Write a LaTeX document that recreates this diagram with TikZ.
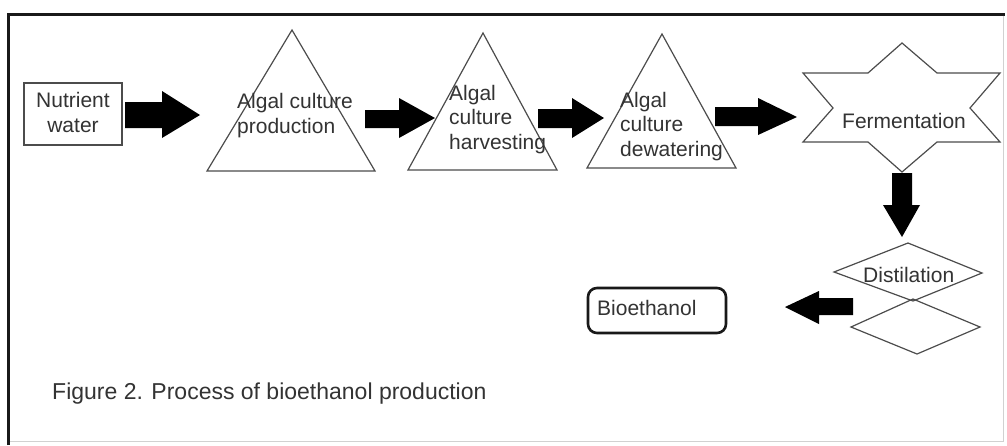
\documentclass[tikz,border=0pt]{standalone}
\usepackage{fontspec}
\setmainfont{Liberation Sans}
\begin{document}
\begin{tikzpicture}[x=1pt,y=-1pt,
  txt/.style={anchor=base west, inner sep=0pt, align=left, text=black!80,
              font=\fontsize{21}{24.5}\selectfont},
  shp/.style={draw=black!70, line width=1.2pt, fill=white, line join=miter},
  barrow/.style={fill=black, draw=none}]
\useasboundingbox (0,0) rectangle (1007,445);
\fill[white] (0,0) rectangle (1007,445);
% frame
\draw[line width=3pt, black!90] (8,445) -- (8,14) -- (1005,14);
\draw[black!18, line width=1pt] (1003,15.5) -- (1003,441) -- (9.5,441);
% Nutrient water box
\draw[shp] (24,83) rectangle (122,145);
% triangles
\draw[shp] (292,30) -- (375,171) -- (207,171) -- cycle;
\draw[shp] (483,33) -- (557,170) -- (408,170) -- cycle;
\draw[shp] (662,34) -- (736,168) -- (587,168) -- cycle;
% star
\draw[shp] (902,43) -- (937,73) -- (1000,73) -- (970,108) -- (1000,142) -- (937,142)
  -- (902,172) -- (868,142) -- (803,142) -- (833,108) -- (803,73) -- (868,73) -- cycle;
% diamonds
\draw[shp] (908,243) -- (982,273) -- (913,301) -- (834,272) -- cycle;
\draw[shp, fill=none] (913,299) -- (980,327) -- (917,354) -- (851,327) -- cycle;
% Bioethanol box
\draw[line width=2.6pt, black!90, rounded corners=9pt] (588,288) rectangle (726,333);
% block arrows
\fill[barrow] (125,102) -- (162,102) -- (162,91) -- (200,115) -- (162,138) -- (162,128) -- (125,128) -- cycle;
\fill[barrow] (365,110) -- (399,110) -- (399,98) -- (435,118) -- (399,138) -- (399,128) -- (365,128) -- cycle;
\fill[barrow] (538,109) -- (572,109) -- (572,98) -- (604,118) -- (572,138) -- (572,128) -- (538,128) -- cycle;
\fill[barrow] (715,107) -- (758,107) -- (758,98) -- (797,117) -- (758,135) -- (758,126) -- (715,126) -- cycle;
\fill[barrow] (892,173) -- (912,173) -- (912,205) -- (920,205) -- (902,237) -- (883,205) -- (892,205) -- cycle;
\fill[barrow] (853,298) -- (819,298) -- (819,291) -- (785,307) -- (819,324) -- (819,315) -- (853,315) -- cycle;
% texts (base anchor of a multi-line node = baseline of its last line)
\node[txt, align=center, anchor=base] (nutrient) at (73,132) {Nutrient\\water};
\node[txt] (production) at (237,133) {Algal culture\\production};
\node[txt] (harvesting) at (449,149) {Algal\\culture\\harvesting};
\node[txt] (dewatering) at (620,156) {Algal\\culture\\dewatering};
\node[txt] (fermentation) at (842,128) {Fermentation};
\node[txt] (distilation) at (863,282) {Distilation};
\node[txt] (bioethanol) at (597,315) {Bioethanol};
\node[txt, font=\fontsize{23}{27}\selectfont] (caption) at (52,399) {Figure 2. Process of bioethanol production};
\end{tikzpicture}
\end{document}
